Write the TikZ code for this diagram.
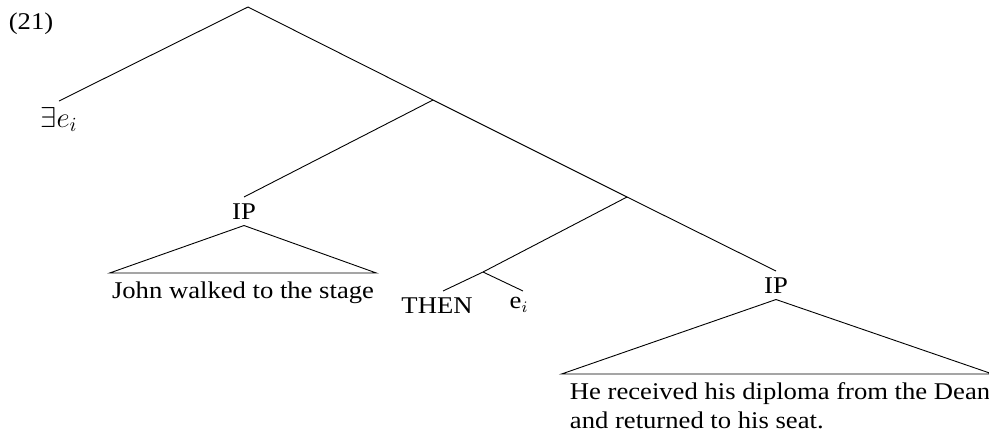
\documentclass[tikz,border=0pt,12pt]{standalone}
\usepackage{fontspec}
\setmainfont{Liberation Serif}[FakeStretch=1.11]
\usetikzlibrary{positioning}

\begin{document}
\begin{tikzpicture}[
    x=0.5pt, y=-0.5pt,
    branch/.style={draw, line width=0.45pt},
    cat/.style={anchor=north, inner sep=3pt},
    leaf/.style={anchor=north, inner xsep=1pt, inner ysep=4pt, align=left}
]
\useasboundingbox (0,0) rectangle (989,434);

% example number
\node (num) at (31,24) {(21)};

% branching points of the spine
\coordinate (root) at (248,7);
\coordinate (top) at (433,100);
\coordinate (mid) at (627,197);
\coordinate (adv) at (483,272);

% labelled nodes
\node[cat, font=\large] (ex) at (59,101) {$\exists e_i$};
\node[cat] (ipL) at (244,197) {IP};
\node[cat] (ipR) at (776,271) {IP};
\node[cat] (then) at (437,291) {THEN};
\node[cat] (ev) at (519,291) {e$_i$};

% terminal strings under the triangles
\node[leaf] (sA) at (243,273) {John walked to the stage};
\node[leaf] (sB) at (780,374) {He received his diploma from the Dean\\and returned to his seat.};

% branches
\draw[branch] (root) -- (ex.north);
\draw[branch] (root) -- (top) -- (mid) -- (ipR.north);
\draw[branch] (top) -- (ipL.north);
\draw[branch] (mid) -- (adv) -- ([xshift=3pt]then.north);
\draw[branch] (adv) -- ([xshift=2pt]ev.north);

% triangles
\draw[branch] (ipL.south) -- (sA.north west) -- (sA.north east) -- cycle;
\draw[branch] (ipR.south) -- ([xshift=-3pt]sB.north west) -- (sB.north east) -- cycle;

\end{tikzpicture}
\end{document}
